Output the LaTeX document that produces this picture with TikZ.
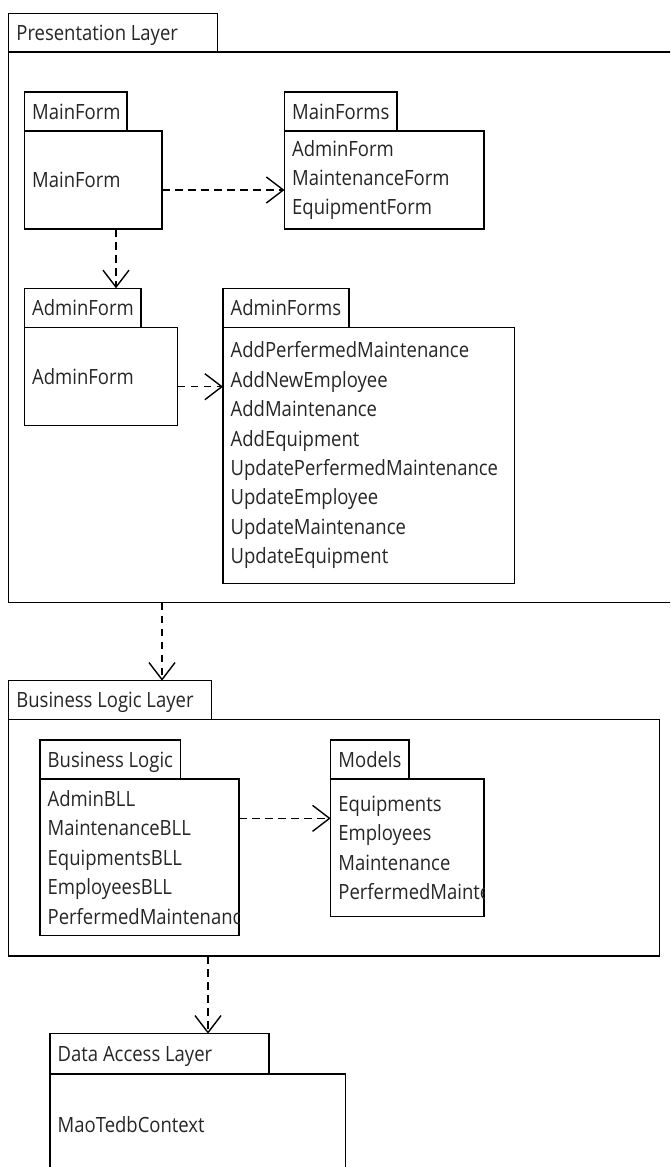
\documentclass[tikz,border=0pt]{standalone}
\usepackage{fontspec}
\setmainfont[FakeStretch=0.88]{Open Sans}
\usetikzlibrary{arrows.meta,calc}

\begin{document}
\begin{tikzpicture}[x=1pt,y=-1pt,
  box/.style={draw, line width=1.4pt, inner sep=0pt, outer sep=0pt, anchor=north west, fill=white},
  tabtext/.style={anchor=base west, inner sep=0pt, xshift=7.5pt, yshift=-7.5pt,
    font=\fontsize{21}{29.4}\selectfont, text=black!85},
  lst/.style={anchor=west, inner sep=0pt, xshift=7.5pt, align=left,
    font=\fontsize{21}{29.4}\selectfont, text=black!85},
  dep/.style={line width=1.4pt, dash pattern=on 7.5pt off 5.5pt,
    -{Straight Barb[length=17pt,width=26pt,line width=1.4pt]}}]

\useasboundingbox (0,0) rectangle (670,1167);
\clip (0,0) rectangle (670,1167);

% ---------- Presentation Layer ----------
\node[box, minimum width=680pt, minimum height=550.7pt] (plBody) at (8.7,52) {};
\node[box, minimum width=208.6pt, minimum height=38.5pt] (plTab) at (8.7,13.5) {};
\node[tabtext] (plTxt) at (plTab.west) {Presentation Layer};

% MainForm package
\node[box, minimum width=137.5pt, minimum height=98pt] (mfBody) at (24.5,131) {};
\node[box, minimum width=102.5pt, minimum height=39pt] (mfTab) at (24.5,92) {};
\node[tabtext] (mfTxt) at (mfTab.west) {MainForm};
\node[lst] (mfList) at (mfBody.west) {MainForm};

% MainForms package
\node[box, minimum width=199.5pt, minimum height=98pt] (mfsBody) at (284.5,131) {};
\node[box, minimum width=112.5pt, minimum height=39pt] (mfsTab) at (284.5,92) {};
\node[tabtext] (mfsTxt) at (mfsTab.west) {MainForms};
\node[lst] (mfsList) at (mfsBody.west) {AdminForm\\MaintenanceForm\\EquipmentForm};

% AdminForm package
\node[box, minimum width=153pt, minimum height=98.4pt] (afBody) at (24.5,327.3) {};
\node[box, minimum width=116.5pt, minimum height=39pt] (afTab) at (24.5,288.3) {};
\node[tabtext] (afTxt) at (afTab.west) {AdminForm};
\node[lst] (afList) at (afBody.west) {AdminForm};

% AdminForms package
\node[box, minimum width=291.7pt, minimum height=256pt] (afsBody) at (223,327.3) {};
\node[box, minimum width=126pt, minimum height=39pt] (afsTab) at (223,288.3) {};
\node[tabtext] (afsTxt) at (afsTab.west) {AdminForms};
\node[lst] (afsList) at (afsBody.west) {AddPerfermedMaintenance\\AddNewEmployee\\AddMaintenance\\AddEquipment\\UpdatePerfermedMaintenance\\UpdateEmployee\\UpdateMaintenance\\UpdateEquipment};

% ---------- Business Logic Layer ----------
\node[box, minimum width=650.6pt, minimum height=236.7pt] (bllBody) at (8.7,719.3) {};
\node[box, minimum width=202.6pt, minimum height=38.6pt] (bllTab) at (8.7,680.7) {};
\node[tabtext] (bllTxt) at (bllTab.west) {Business Logic Layer};

% Business Logic package
\node[box, minimum width=199pt, minimum height=156.7pt] (blBody) at (40,779) {};
\node[box, minimum width=140.7pt, minimum height=39pt] (blTab) at (40,740) {};
\node[tabtext] (blTxt) at (blTab.west) {Business Logic};
\begin{scope}
  \clip (blBody.north west) rectangle (blBody.south east);
  \node[lst] (blList) at (blBody.west) {AdminBLL\\MaintenanceBLL\\EquipmentsBLL\\EmployeesBLL\\PerfermedMaintenance};
\end{scope}

% Models package
\node[box, minimum width=153.3pt, minimum height=137.7pt] (mdBody) at (330.7,779) {};
\node[box, minimum width=78.3pt, minimum height=39pt] (mdTab) at (330.7,740) {};
\node[tabtext] (mdTxt) at (mdTab.west) {Models};
\begin{scope}
  \clip (mdBody.north west) rectangle (mdBody.south east);
  \node[lst] (mdList) at (mdBody.west) {Equipments\\Employees\\Maintenance\\PerfermedMaintenance};
\end{scope}

% ---------- Data Access Layer ----------
\node[box, minimum width=295.3pt, minimum height=102pt] (dalBody) at (50,1074) {};
\node[box, minimum width=219pt, minimum height=40.3pt] (dalTab) at (50,1033.7) {};
\node[tabtext] (dalTxt) at (dalTab.west) {Data Access Layer};
\node[lst] (dalList) at (dalBody.west) {MaoTedbContext};

% ---------- dependencies ----------
\coordinate (d1) at ([yshift=-10pt]mfBody.east);
\draw[dep] (d1) -- (mfsBody.west |- d1);

\coordinate (d2) at ([xshift=22.75pt]mfBody.south);
\draw[dep] (d2) -- (d2 |- afTab.north);

\coordinate (d3) at ([yshift=-10.2pt]afBody.east);
\draw[dep] (d3) -- (afsBody.west |- d3);

\coordinate (d4) at ([xshift=153.3pt]plBody.south west);
\draw[dep] (d4) -- (d4 |- bllTab.north);

\coordinate (d5) at ([yshift=39pt]blBody.east);
\draw[dep] (d5) -- (mdBody.west |- d5);

\coordinate (d6) at ([xshift=199.3pt]bllBody.south west);
\draw[dep] (d6) -- (d6 |- dalTab.north);

\end{tikzpicture}
\end{document}
